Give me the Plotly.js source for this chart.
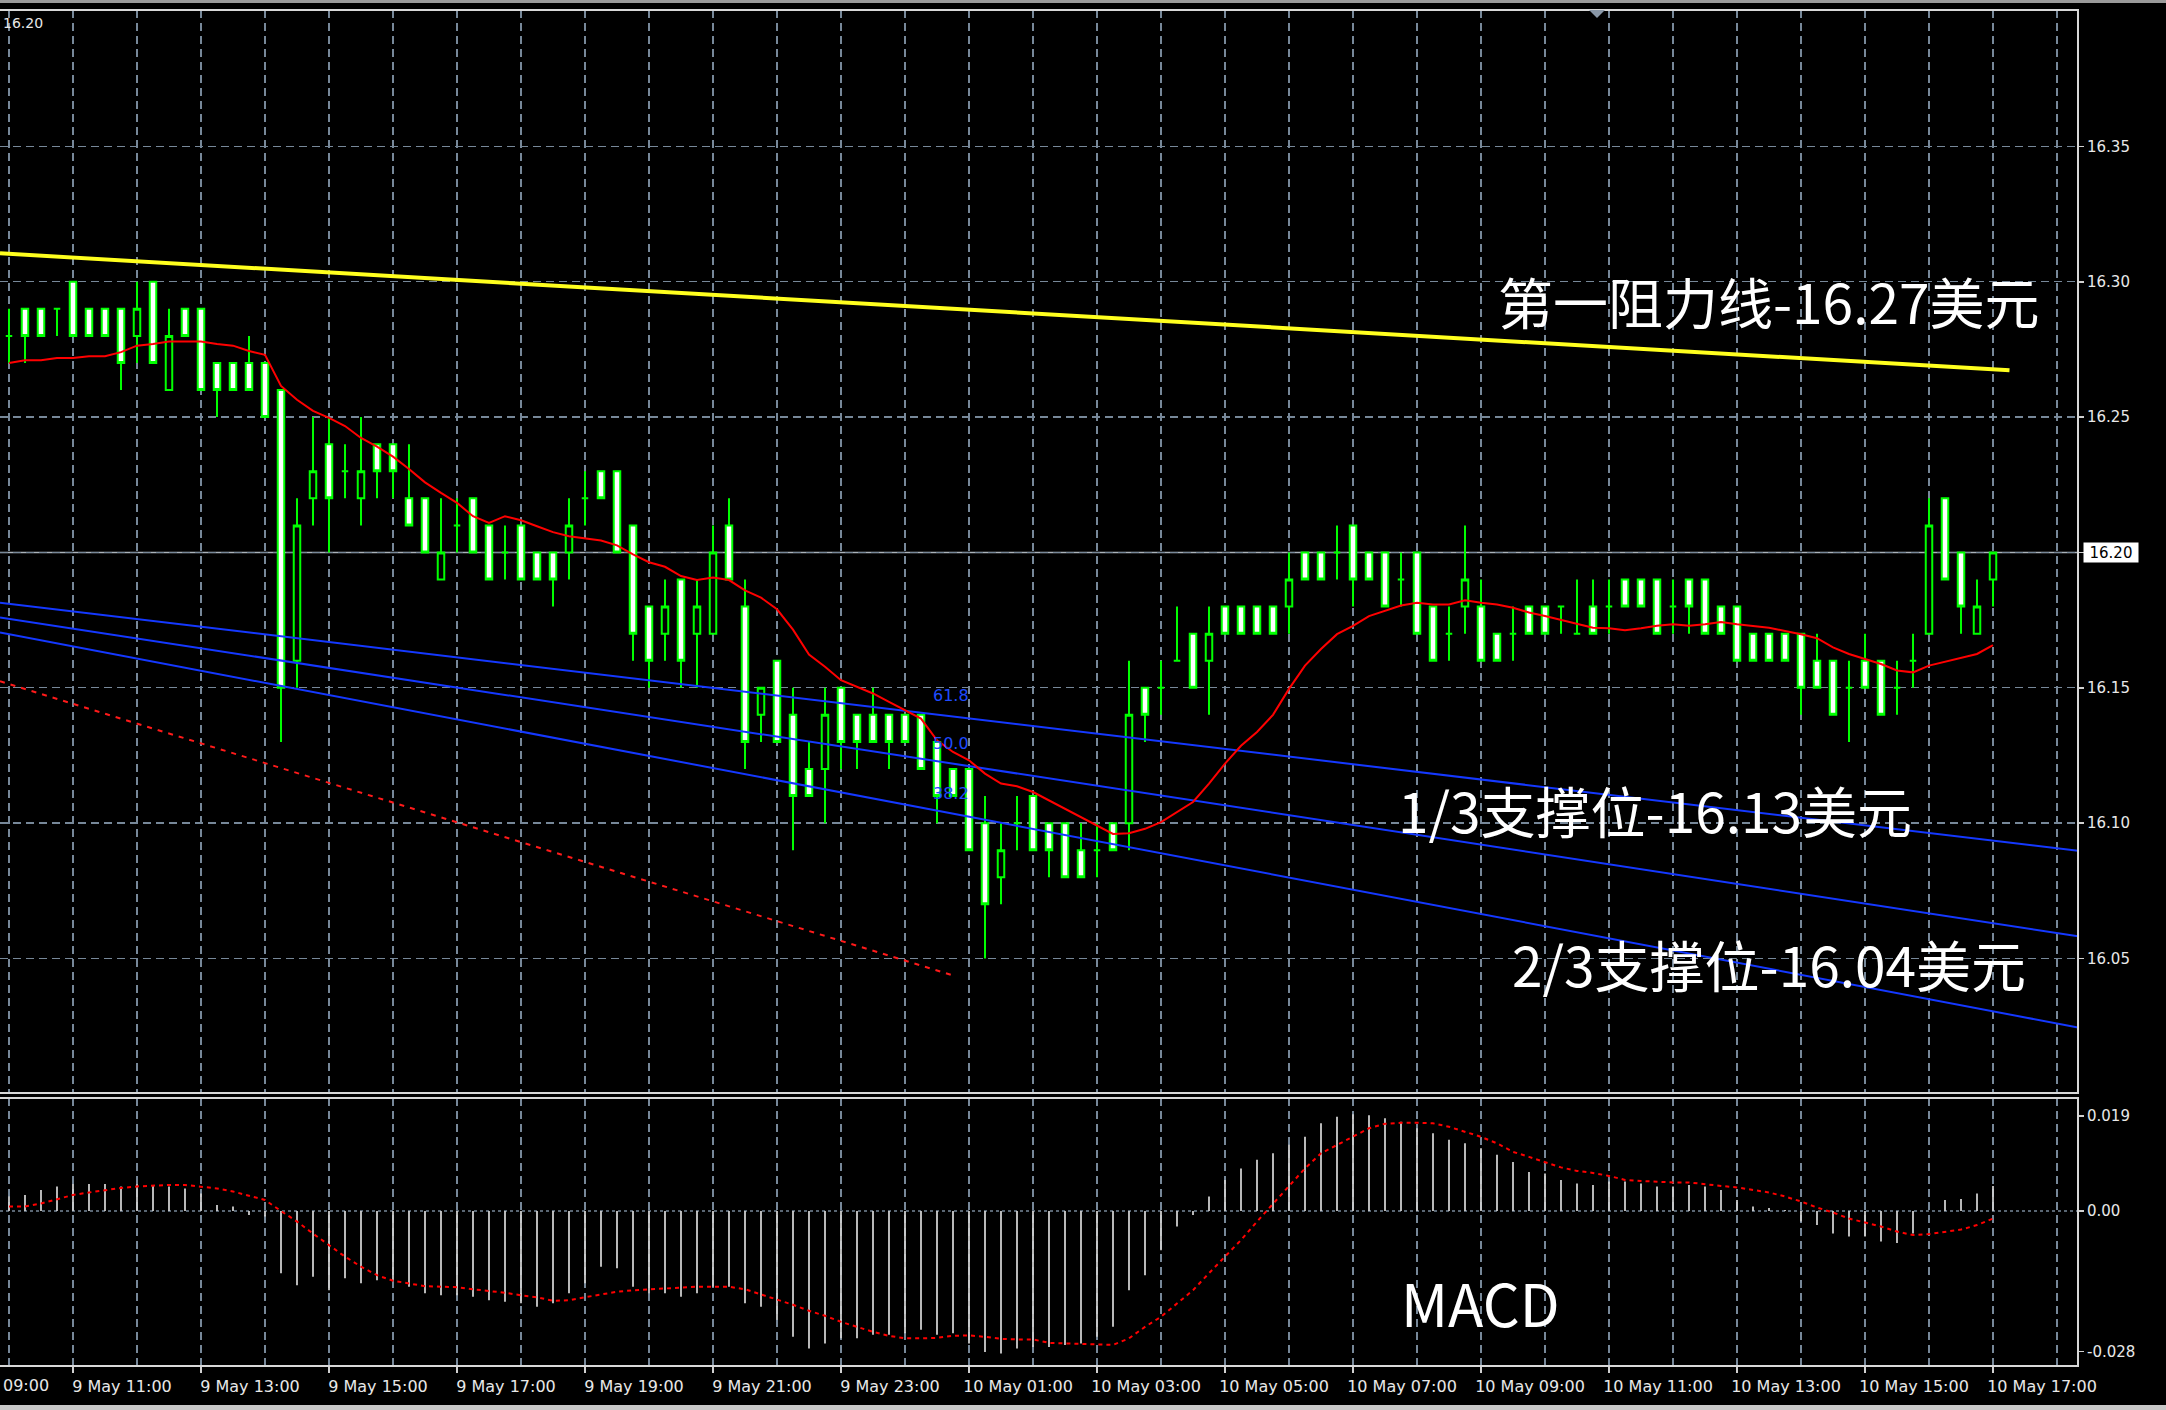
<!DOCTYPE html>
<html>
<head>
<meta charset="utf-8">
<script src="https://cdn.plot.ly/plotly-3.0.1.min.js"></script>
<style>
html,body{margin:0;padding:0;background:#000;}
#chart{width:2166px;height:1410px;}
</style>
</head>
<body>
<div id="chart"></div>
<script>
// ---------- DATA (15-minute bars, 9 May 10:00 -> 10 May 17:00) ----------
const startDay = 9, startHour = 10, barMinutes = 15;

const openP = [
16.28,16.29,16.29,16.29,16.30,16.29,16.29,16.29,16.28,16.30,
16.26,16.29,16.29,16.27,16.27,16.27,16.27,16.26,16.16,16.22,
16.24,16.23,16.22,16.24,16.24,16.22,16.22,16.19,16.21,16.22,
16.21,16.20,16.21,16.20,16.20,16.20,16.22,16.23,16.23,16.21,
16.18,16.17,16.19,16.17,16.17,16.21,16.18,16.14,16.16,16.14,
16.12,16.12,16.15,16.14,16.14,16.14,16.14,16.14,16.13,16.12,
16.12,16.10,16.08,16.10,16.11,16.10,16.10,16.09,16.09,16.10,
16.10,16.15,16.15,16.16,16.17,16.16,16.18,16.18,16.18,16.18,
16.18,16.20,16.20,16.20,16.21,16.20,16.20,16.19,16.20,16.18,
16.17,16.18,16.18,16.17,16.17,16.18,16.18,16.18,16.17,16.18,
16.18,16.19,16.19,16.19,16.18,16.19,16.19,16.18,16.18,16.17,
16.17,16.17,16.17,16.16,16.16,16.15,16.16,16.16,16.15,16.16,
16.17,16.22,16.20,16.17,16.19];

const highP = [
16.29,16.29,16.29,16.29,16.30,16.29,16.29,16.29,16.30,16.30,
16.29,16.29,16.29,16.27,16.27,16.28,16.27,16.26,16.22,16.25,
16.25,16.24,16.25,16.24,16.24,16.24,16.22,16.22,16.22,16.22,
16.21,16.21,16.21,16.20,16.20,16.22,16.23,16.23,16.23,16.21,
16.18,16.19,16.19,16.19,16.21,16.22,16.19,16.15,16.16,16.15,
16.13,16.15,16.15,16.14,16.15,16.14,16.14,16.14,16.13,16.12,
16.12,16.11,16.10,16.11,16.11,16.10,16.10,16.10,16.10,16.10,
16.16,16.15,16.16,16.18,16.17,16.18,16.18,16.18,16.18,16.18,
16.20,16.20,16.20,16.21,16.21,16.20,16.20,16.20,16.20,16.18,
16.18,16.21,16.19,16.17,16.18,16.18,16.18,16.18,16.19,16.19,
16.19,16.19,16.19,16.19,16.19,16.19,16.19,16.18,16.18,16.17,
16.17,16.17,16.17,16.17,16.16,16.16,16.17,16.16,16.16,16.17,
16.22,16.22,16.20,16.19,16.20];

const lowP = [
16.27,16.27,16.28,16.28,16.28,16.28,16.28,16.26,16.27,16.27,
16.26,16.28,16.26,16.25,16.26,16.26,16.25,16.13,16.15,16.21,
16.20,16.22,16.21,16.22,16.22,16.21,16.20,16.19,16.20,16.20,
16.19,16.19,16.19,16.19,16.18,16.19,16.21,16.22,16.20,16.16,
16.15,16.16,16.15,16.15,16.17,16.19,16.12,16.13,16.13,16.09,
16.11,16.10,16.12,16.12,16.13,16.12,16.13,16.12,16.10,16.11,
16.09,16.05,16.07,16.09,16.09,16.08,16.08,16.08,16.08,16.09,
16.09,16.13,16.14,16.16,16.15,16.14,16.17,16.17,16.17,16.17,
16.17,16.19,16.19,16.19,16.18,16.19,16.18,16.18,16.17,16.16,
16.16,16.17,16.16,16.16,16.16,16.17,16.17,16.17,16.17,16.17,
16.17,16.18,16.18,16.17,16.17,16.17,16.17,16.17,16.16,16.16,
16.16,16.16,16.14,16.15,16.14,16.13,16.15,16.14,16.14,16.15,
16.17,16.19,16.17,16.17,16.18];

const closeP = [
16.28,16.28,16.28,16.29,16.28,16.28,16.28,16.27,16.29,16.27,
16.28,16.28,16.26,16.26,16.26,16.26,16.25,16.15,16.21,16.23,
16.22,16.23,16.23,16.23,16.23,16.21,16.20,16.20,16.21,16.20,
16.19,16.20,16.19,16.19,16.19,16.21,16.22,16.22,16.20,16.17,
16.16,16.18,16.16,16.18,16.20,16.19,16.13,16.15,16.13,16.11,
16.11,16.14,16.13,16.13,16.13,16.13,16.13,16.12,16.11,16.11,
16.09,16.07,16.09,16.10,16.09,16.09,16.08,16.08,16.09,16.09,
16.14,16.14,16.15,16.16,16.15,16.17,16.17,16.17,16.17,16.17,
16.19,16.19,16.19,16.20,16.19,16.19,16.18,16.19,16.17,16.16,
16.17,16.19,16.16,16.16,16.17,16.17,16.17,16.18,16.17,16.17,
16.18,16.18,16.18,16.17,16.18,16.18,16.17,16.17,16.16,16.16,
16.16,16.16,16.15,16.15,16.14,16.15,16.15,16.14,16.15,16.16,
16.21,16.19,16.18,16.18,16.20];

// red moving average on the price panel
const maLine = [
16.2700,16.2710,16.2710,16.2718,16.2718,16.2725,16.2725,16.2740,16.2764,16.2770,
16.2779,16.2779,16.2779,16.2770,16.2764,16.2744,16.2730,16.2615,16.2564,16.2523,
16.2497,16.2467,16.2423,16.2391,16.2354,16.2308,16.2259,16.2220,16.2183,16.2134,
16.2109,16.2134,16.2119,16.2097,16.2075,16.2060,16.2051,16.2044,16.2026,16.1993,
16.1964,16.1947,16.1913,16.1898,16.1907,16.1898,16.1860,16.1833,16.1790,16.1715,
16.1623,16.1578,16.1528,16.1504,16.1479,16.1448,16.1417,16.1386,16.1306,16.1263,
16.1232,16.1183,16.1146,16.1136,16.1115,16.1084,16.1053,16.1022,16.0991,16.0960,
16.0963,16.0979,16.1004,16.1041,16.1078,16.1146,16.1220,16.1286,16.1337,16.1400,
16.1496,16.1582,16.1643,16.1698,16.1729,16.1765,16.1784,16.1804,16.1814,16.1808,
16.1808,16.1823,16.1814,16.1808,16.1796,16.1778,16.1765,16.1751,16.1735,16.1722,
16.1720,16.1713,16.1720,16.1729,16.1735,16.1729,16.1735,16.1743,16.1735,16.1729,
16.1722,16.1710,16.1698,16.1683,16.1649,16.1625,16.1606,16.1588,16.1564,16.1557,
16.1582,16.1597,16.1610,16.1625,16.1658];

// MACD histogram and signal
const macdHist = [
0.0029,0.0032,0.0042,0.0049,0.0054,0.0054,0.0054,0.0049,0.0054,0.0052,
0.0049,0.0045,0.0035,0.0012,0.0009,-0.0008,-0.0011,-0.0124,-0.0148,-0.0131,
-0.0158,-0.0134,-0.0144,-0.0138,-0.0138,-0.0151,-0.0164,-0.0168,-0.0168,-0.0171,
-0.0178,-0.0181,-0.0184,-0.0191,-0.0184,-0.0164,-0.0144,-0.0111,-0.0114,-0.0151,
-0.0164,-0.0164,-0.0171,-0.0164,-0.0151,-0.0151,-0.0184,-0.0191,-0.0217,-0.0251,
-0.0274,-0.0264,-0.0254,-0.0254,-0.0247,-0.0247,-0.0244,-0.0237,-0.0247,-0.0244,
-0.0264,-0.0281,-0.0284,-0.0274,-0.0271,-0.0271,-0.0267,-0.0264,-0.0251,-0.0231,
-0.0158,-0.0128,-0.0078,-0.0031,-0.0008,0.0029,0.0062,0.0085,0.0102,0.0115,
0.0132,0.0148,0.0175,0.0188,0.0193,0.0191,0.0185,0.0178,0.0165,0.0155,
0.0142,0.0135,0.0125,0.0112,0.0098,0.0078,0.0075,0.0062,0.0055,0.0052,
0.0059,0.0059,0.0055,0.0049,0.0049,0.0052,0.0049,0.0042,0.0022,0.0009,
0.0006,0.0002,-0.0021,-0.0028,-0.0045,-0.0051,-0.0051,-0.0061,-0.0064,-0.0045,
0.0000,0.0022,0.0024,0.0035,0.0050];

const macdSignal = [
0.0009,0.0009,0.0015,0.0024,0.0032,0.0037,0.0042,0.0046,0.0049,0.0051,
0.0052,0.0052,0.0049,0.0045,0.0039,0.0031,0.0022,0.0000,-0.0021,-0.0045,
-0.0068,-0.0091,-0.0111,-0.0128,-0.0139,-0.0144,-0.0150,-0.0151,-0.0152,-0.0156,
-0.0159,-0.0163,-0.0168,-0.0172,-0.0179,-0.0178,-0.0172,-0.0166,-0.0161,-0.0158,
-0.0156,-0.0155,-0.0152,-0.0151,-0.0151,-0.0151,-0.0156,-0.0166,-0.0176,-0.0187,
-0.0199,-0.0209,-0.0221,-0.0231,-0.0241,-0.0249,-0.0254,-0.0254,-0.0253,-0.0249,
-0.0248,-0.0251,-0.0255,-0.0256,-0.0256,-0.0263,-0.0264,-0.0265,-0.0267,-0.0267,
-0.0254,-0.0231,-0.0211,-0.0184,-0.0158,-0.0124,-0.0091,-0.0058,-0.0021,0.0015,
0.0049,0.0085,0.0115,0.0132,0.0148,0.0165,0.0174,0.0176,0.0176,0.0175,
0.0168,0.0158,0.0148,0.0135,0.0118,0.0108,0.0098,0.0087,0.0080,0.0076,
0.0070,0.0062,0.0060,0.0058,0.0057,0.0057,0.0053,0.0050,0.0047,0.0042,
0.0037,0.0029,0.0019,0.0007,-0.0003,-0.0015,-0.0023,-0.0031,-0.0041,-0.0048,
-0.0046,-0.0041,-0.0037,-0.0028,-0.0015];

// drawn lines (time, price end points)
const yellowT = ['2019-05-09 09:51:34', '2019-05-10 17:15:27'];
const yellowP = [16.3105, 16.2673];
const blue1T = ['2019-05-09 09:51:34', '2019-05-10 18:19:41'];
const blue1P = [16.1814, 16.0898];
const blue2T = ['2019-05-09 09:51:34', '2019-05-10 18:19:41'];
const blue2P = [16.1760, 16.0582];
const blue3T = ['2019-05-09 09:51:34', '2019-05-10 18:19:41'];
const blue3P = [16.1704, 16.0245];
const redDotT = ['2019-05-09 09:51:34', '2019-05-10 00:43:35'];
const redDotP = [16.1524, 16.0439];

const priceTicks = [16.05, 16.10, 16.15, 16.20, 16.25, 16.30, 16.35];
const macdTicks = [0.019, 0.00, -0.028];
const macdTickText = ['0.019', '0.00', '-0.028'];
const currentPrice = 16.20;
const fibLabels = ['61.8', '50.0', '38.2'];

// ---------- helpers ----------
function pad(n){ return (n < 10 ? '0' : '') + n; }
function barTime(i){
  const m = startHour * 60 + barMinutes * i;
  const d = startDay + Math.floor(m / 1440);
  const mm = m % 1440;
  return '2019-05-' + pad(d) + ' ' + pad(Math.floor(mm / 60)) + ':' + pad(mm % 60) + ':00';
}
const times = openP.map((_, i) => barTime(i));

// pixel -> paper helpers (plot area: x 0..2078, y 10..1366)
const PW = 2078, PT = 10, PB = 1366, PH = PB - PT;
const px = x => x / PW;
const py = y => (PB - y) / PH;

const GRID = '#778899';
const TXT = '#e8e8e8';
const candleGreen = '#00ff00';

const traces = [
  {type:'scatter', mode:'lines', x:redDotT, y:redDotP, xaxis:'x', yaxis:'y',
   line:{color:'#ff1a1a', width:2, dash:'5px,6px'}, hoverinfo:'skip'},
  {type:'scatter', mode:'lines', x:blue1T, y:blue1P, xaxis:'x', yaxis:'y',
   line:{color:'#1438ff', width:2}, hoverinfo:'skip'},
  {type:'scatter', mode:'lines', x:blue2T, y:blue2P, xaxis:'x', yaxis:'y',
   line:{color:'#1438ff', width:2}, hoverinfo:'skip'},
  {type:'scatter', mode:'lines', x:blue3T, y:blue3P, xaxis:'x', yaxis:'y',
   line:{color:'#1438ff', width:2}, hoverinfo:'skip'},
  {type:'scatter', mode:'lines', x:yellowT, y:yellowP, xaxis:'x', yaxis:'y',
   line:{color:'#ffff1e', width:4}, hoverinfo:'skip'},
  {type:'candlestick', x:times, open:openP, high:highP, low:lowP, close:closeP,
   xaxis:'x', yaxis:'y', whiskerwidth:0,
   increasing:{line:{color:candleGreen, width:2}, fillcolor:'#000000'},
   decreasing:{line:{color:candleGreen, width:2}, fillcolor:'#ffffff'},
   hoverinfo:'skip'},
  {type:'scatter', mode:'lines', x:times, y:maLine, xaxis:'x', yaxis:'y',
   line:{color:'#ff0000', width:2}, hoverinfo:'skip'},
  {type:'bar', x:times, y:macdHist, xaxis:'x', yaxis:'y2', width:100000,
   marker:{color:'#d0d0d0', line:{width:0}}, hoverinfo:'skip'},
  {type:'scatter', mode:'lines', x:times, y:macdSignal, xaxis:'x', yaxis:'y2',
   line:{color:'#ff0000', width:2, dash:'4px,4px'}, hoverinfo:'skip'}
];

const bigFont = {family:'"Noto Sans CJK SC", "Noto Sans", sans-serif', size:55, color:'#ffffff'};
const fibFont = {family:'"DejaVu Sans", sans-serif', size:16, color:'#1f4bff'};

const layout = {
  width:2166, height:1410,
  margin:{l:0, r:88, t:PT, b:1410-PB, pad:0},
  paper_bgcolor:'#000000', plot_bgcolor:'#000000',
  showlegend:false, hovermode:false,
  boxgap:0.42,
  xaxis:{
    type:'date', anchor:'y2',
    range:['2019-05-09 09:51:34', '2019-05-10 18:19:41'],
    rangeslider:{visible:false},
    tick0:'2019-05-09 11:00:00', dtick:7200000,
    tickformat:'%-d %b %H:%M',
    ticks:'outside', ticklen:6, tickwidth:1.5, tickcolor:'#d0d0d0',
    ticklabelshift:49,
    tickfont:{family:'"DejaVu Sans", sans-serif', size:16, color:TXT},
    showgrid:true, gridcolor:GRID, gridwidth:1.4, griddash:'8px,5px',
    minor:{tick0:'2019-05-09 10:00:00', dtick:3600000, showgrid:true,
           gridcolor:GRID, gridwidth:1.4, griddash:'8px,5px', ticks:''},
    zeroline:false, showline:false, fixedrange:true
  },
  yaxis:{
    domain:[py(1093), 1], anchor:'x', side:'right',
    range:[16.0003, 16.4004],
    tickmode:'array', tickvals:priceTicks, ticktext:priceTicks.map(v => v.toFixed(2)),
    ticks:'outside', ticklen:5, tickwidth:1.5, tickcolor:'#d0d0d0',
    tickfont:{family:'"DejaVu Sans", sans-serif', size:15, color:TXT},
    showgrid:true, gridcolor:GRID, gridwidth:1.4, griddash:'8px,5px',
    zeroline:false, showline:false, fixedrange:true
  },
  yaxis2:{
    domain:[0, py(1098)], anchor:'x', side:'right',
    range:[-0.03091, 0.02254],
    tickmode:'array', tickvals:macdTicks, ticktext:macdTickText,
    ticks:'outside', ticklen:5, tickwidth:1.5, tickcolor:'#d0d0d0',
    tickfont:{family:'"DejaVu Sans", sans-serif', size:15, color:TXT},
    showgrid:false, zeroline:false, showline:false, fixedrange:true
  },
  shapes:[
    {type:'line', xref:'x domain', yref:'y', x0:0, x1:1, y0:currentPrice, y1:currentPrice,
     line:{color:'#aab2ba', width:1.6}, layer:'below'},
    {type:'line', xref:'x domain', yref:'y2', x0:0, x1:1, y0:0, y1:0,
     line:{color:GRID, width:1.6, dash:'3px,3px'}, layer:'below'},
    {type:'rect', xref:'x domain', yref:'y domain', x0:-0.01, x1:1, y0:0, y1:1,
     line:{color:'#d8d8d8', width:2}, fillcolor:'rgba(0,0,0,0)'},
    {type:'rect', xref:'x domain', yref:'y2 domain', x0:-0.01, x1:1, y0:0, y1:1,
     line:{color:'#d8d8d8', width:2}, fillcolor:'rgba(0,0,0,0)'},
    {type:'path', xref:'paper', yref:'paper',
     path:'M '+px(1589)+' '+py(10)+' L '+px(1605)+' '+py(10)+' L '+px(1597)+' '+py(18)+' Z',
     fillcolor:'#8a98a8', line:{width:0}},
    {type:'rect', xref:'paper', yref:'paper', x0:px(0), x1:px(2166), y0:py(3), y1:py(0),
     fillcolor:'#9a9a9a', line:{width:0}},
    {type:'rect', xref:'paper', yref:'paper', x0:px(0), x1:px(2166), y0:py(1410), y1:py(1405),
     fillcolor:'#c8c8c8', line:{width:0}}
  ],
  annotations:[
    {xref:'paper', yref:'paper', x:px(1496), y:py(300), xanchor:'left', yanchor:'middle',
     text:'第一阻力线-16.27美元', showarrow:false, font:bigFont},
    {xref:'paper', yref:'paper', x:px(1396), y:py(809), xanchor:'left', yanchor:'middle',
     text:'1/3支撑位-16.13美元', showarrow:false, font:bigFont},
    {xref:'paper', yref:'paper', x:px(1510), y:py(963), xanchor:'left', yanchor:'middle',
     text:'2/3支撑位-16.04美元', showarrow:false, font:bigFont},
    {xref:'paper', yref:'paper', x:px(1399), y:py(1302), xanchor:'left', yanchor:'middle',
     text:'MACD', showarrow:false,
     font:{family:'"Noto Sans CJK SC", "Noto Sans", sans-serif', size:58, color:'#ffffff'}},
    {xref:'paper', yref:'paper', x:px(951), y:py(695), xanchor:'center', yanchor:'middle',
     text:fibLabels[0], showarrow:false, font:fibFont},
    {xref:'paper', yref:'paper', x:px(951), y:py(743), xanchor:'center', yanchor:'middle',
     text:fibLabels[1], showarrow:false, font:fibFont},
    {xref:'paper', yref:'paper', x:px(951), y:py(793), xanchor:'center', yanchor:'middle',
     text:fibLabels[2], showarrow:false, font:fibFont},
    {xref:'paper', yref:'y', x:px(2083), y:currentPrice, xanchor:'left', yanchor:'middle',
     text:currentPrice.toFixed(2), showarrow:false, bgcolor:'#ffffff', width:52, height:17,
     borderpad:1, align:'center',
     font:{family:'"DejaVu Sans", sans-serif', size:15, color:'#000000'}},
    // small labels at the left edge (kept fully inside the picture)
    {xref:'paper', yref:'paper', x:px(1), y:py(23), xanchor:'left', yanchor:'middle',
     text:'16.20', showarrow:false,
     font:{family:'"DejaVu Sans", sans-serif', size:14, color:TXT}},
    {xref:'paper', yref:'paper', x:px(1), y:py(1385), xanchor:'left', yanchor:'middle',
     text:'09:00', showarrow:false,
     font:{family:'"DejaVu Sans", sans-serif', size:16, color:TXT}}
  ]
};

Plotly.newPlot('chart', traces, layout, {staticPlot:true, displayModeBar:false});
</script>
</body>
</html>
